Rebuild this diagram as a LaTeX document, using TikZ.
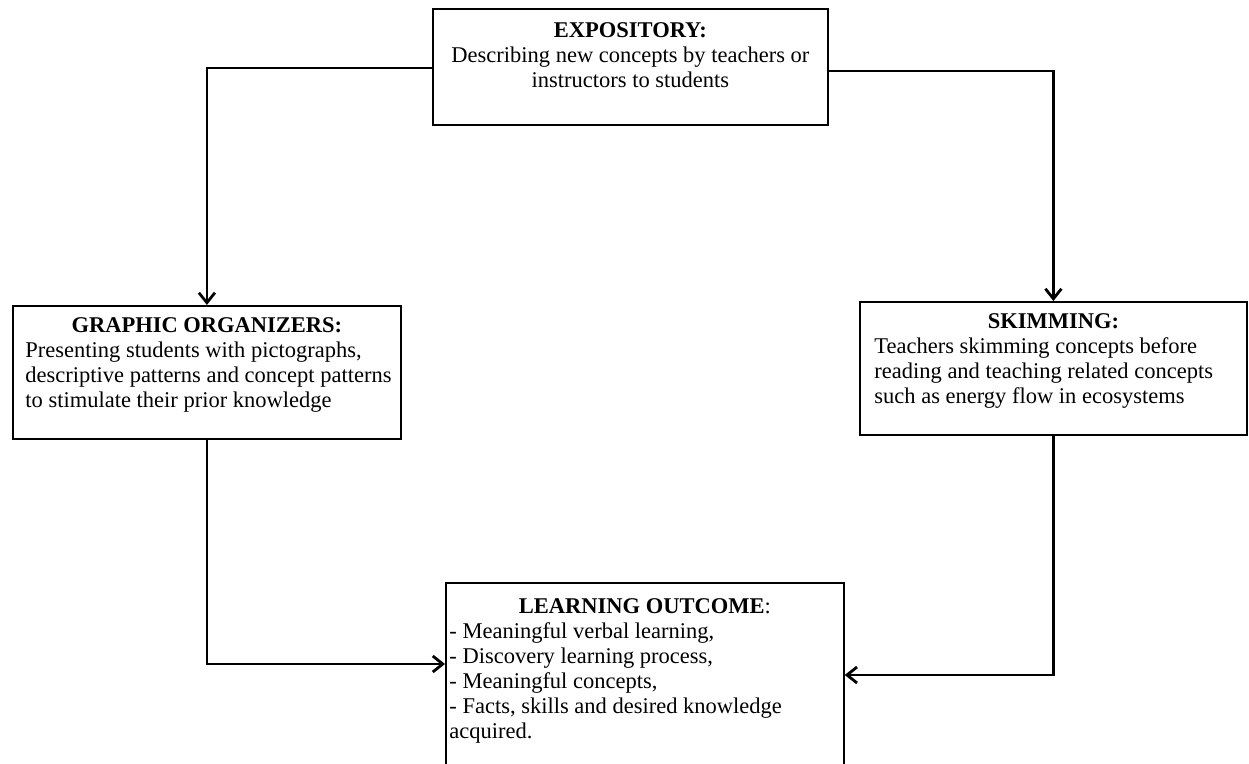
\documentclass[tikz,border=0pt]{standalone}
\usepackage{fontspec}
\setmainfont{Liberation Serif}
\usetikzlibrary{arrows.meta,calc}
\begin{document}
\begin{tikzpicture}[x=0.5pt,y=-0.5pt,
  box/.style={draw,line width=0.9pt,inner sep=0pt,anchor=north west},
  txt/.style={font=\fontsize{11.25}{12.5}\selectfont,inner sep=0pt},
  conn/.style={line width=1.35pt,-{Straight Barb[length=5pt,width=8pt,line width=1.4pt]}}]
\useasboundingbox (0,0) rectangle (1249,764);
% boxes
\node[box,minimum width=197.5pt,minimum height=58pt] (exp) at (432,8) {};
\node[box,minimum width=194pt,minimum height=66.5pt] (gr) at (12,305) {};
\node[box,minimum width=193.5pt,minimum height=66.5pt] (sk) at (859,301) {};
\node[box,minimum width=199pt,minimum height=109pt] (lo) at (445,582) {};
% texts
\node[txt,align=center,anchor=north] (expT) at ($(exp.north)+(0,11.5)$)
  {\strut\textbf{EXPOSITORY:}\\Describing new concepts by teachers or\\instructors to students};
\node[txt,anchor=north] (grT) at ($(gr.north)+(0,9.5)$) {\strut\textbf{GRAPHIC ORGANIZERS:}};
\node[txt,align=left,anchor=north west] (grB) at (25,339.5)
  {\strut Presenting students with pictographs,\\descriptive patterns and concept patterns\\to stimulate their prior knowledge};
\node[txt,anchor=north] (skT) at ($(sk.north)+(0,9.5)$) {\strut\textbf{SKIMMING:}};
\node[txt,align=left,anchor=north west] (skB) at (874,335.5)
  {\strut Teachers skimming concepts before\\reading and teaching related concepts\\such as energy flow in ecosystems};
\node[txt,anchor=north] (loT) at ($(lo.north)+(0,14)$) {\strut\textbf{LEARNING OUTCOME}:};
\node[txt,align=left,anchor=north west] (loB) at (449,621)
  {\strut - Meaningful verbal learning,\\- Discovery learning process,\\- Meaningful concepts,\\- Facts, skills and desired knowledge\\acquired.};
% connectors
\draw[conn] ($(exp.west)+(0,1)$) -| (gr.north);
\draw[conn] ($(exp.east)+(0,4)$) -| (sk.north);
\draw[conn] (gr.south) |- ($(lo.north west)+(0,82)$);
\draw[conn] (sk.south) |- ($(lo.north east)+(0,93)$);
\end{tikzpicture}
\end{document}
